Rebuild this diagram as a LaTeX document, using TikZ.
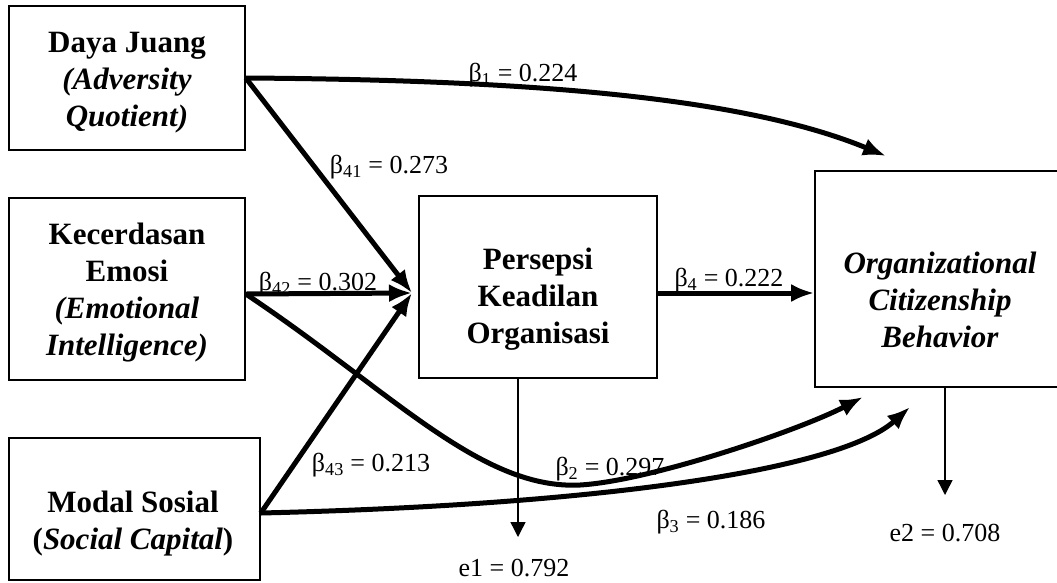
\documentclass[tikz,border=0pt]{standalone}
\usepackage{fontspec}
\setmainfont{Liberation Serif}
\usetikzlibrary{arrows.meta,calc}
\begin{document}
\begin{tikzpicture}[x=1pt,y=-1pt,
  box/.style={draw,line width=1.6pt,rectangle,inner sep=0pt},
  boxtext/.style={align=center,inner sep=0pt,font=\fontsize{31}{37}\selectfont\bfseries},
  coef/.style={inner sep=0pt,font=\fontsize{26}{30}\selectfont},
  thickarrow/.style={line width=5pt,-{Latex[length=23pt,width=18pt]}},
  errarrow/.style={line width=1.4pt,-{Triangle[length=15pt,width=15pt]}}
]
\useasboundingbox (0,0) rectangle (1057,582);

% boxes
\node[box,minimum width=236,minimum height=144] (DJ) at (127,78) {};
\node[boxtext] (DJt) at (127,83) {Daya Juang\\\textit{(Adversity}\\\textit{Quotient)}};
\node[box,minimum width=236,minimum height=182] (KE) at (127,289) {};
\node[boxtext] (KEt) at (127,293) {Kecerdasan\\Emosi\\\textit{(Emotional}\\\textit{Intelligence)}};
\node[box,minimum width=251,minimum height=142] (MS) at (134.5,509) {};
\node[boxtext] (MSt) at (133,524) {Modal Sosial\\(\textit{Social Capital})};
\node[box,minimum width=238,minimum height=182] (PKO) at (538,287) {};
\node[boxtext] (PKOt) at (538,299.5) {Persepsi\\Keadilan\\Organisasi};
\node[box,minimum width=250,minimum height=216] (OCB) at (940,279) {};
\node[boxtext] (OCBt) at (940,299.5) {\textit{Organizational}\\\textit{Citizenship}\\\textit{Behavior}};

% arrow end points
\coordinate (conv) at (412,293);
\coordinate (b1tip) at (886,156);
\coordinate (b2tip) at (863,397);
\coordinate (b3tip) at (910,407);
\coordinate (e1tip) at (518,537);
\coordinate (e2tip) at (945,495);

% connectors
\draw[thickarrow] (DJ.east) .. controls (550,80) and (750,100) .. (b1tip);
\draw[thickarrow] (DJ.east) -- (conv);
\draw[thickarrow] ($(KE.east)+(0,5)$) -- (conv);
\draw[thickarrow] ($(MS.east)+(0,4)$) -- (conv);
\draw[thickarrow] (PKO.east |- conv) -- (OCB.west |- conv);
\draw[thickarrow] ($(KE.east)+(0,5)$) .. controls (390,390) and (480,490) .. (580,485)
                  .. controls (650,481) and (800,430) .. (b2tip);
\draw[thickarrow] ($(MS.east)+(0,4)$) .. controls (600,505) and (840,470) .. (b3tip);
\draw[errarrow] ($(PKO.south)+(-20,0)$) -- (e1tip);
\draw[errarrow] ($(OCB.south)+(5,0)$) -- (e2tip);

% labels
\node[coef] (l1) at (523,75) {β\textsubscript{1} = 0.224};
\node[coef] (l41) at (389,167) {β\textsubscript{41} = 0.273};
\node[coef] (l42) at (318,284) {β\textsubscript{42} = 0.302};
\node[coef] (l43) at (371,465) {β\textsubscript{43} = 0.213};
\node[coef] (l4) at (729,280) {β\textsubscript{4} = 0.222};
\node[coef] (l2) at (610,469) {β\textsubscript{2} = 0.297};
\node[coef] (l3) at (711,522) {β\textsubscript{3} = 0.186};
\node[coef] (le1) at (514,568) {e1 = 0.792};
\node[coef] (le2) at (945,533) {e2 = 0.708};
\end{tikzpicture}
\end{document}
